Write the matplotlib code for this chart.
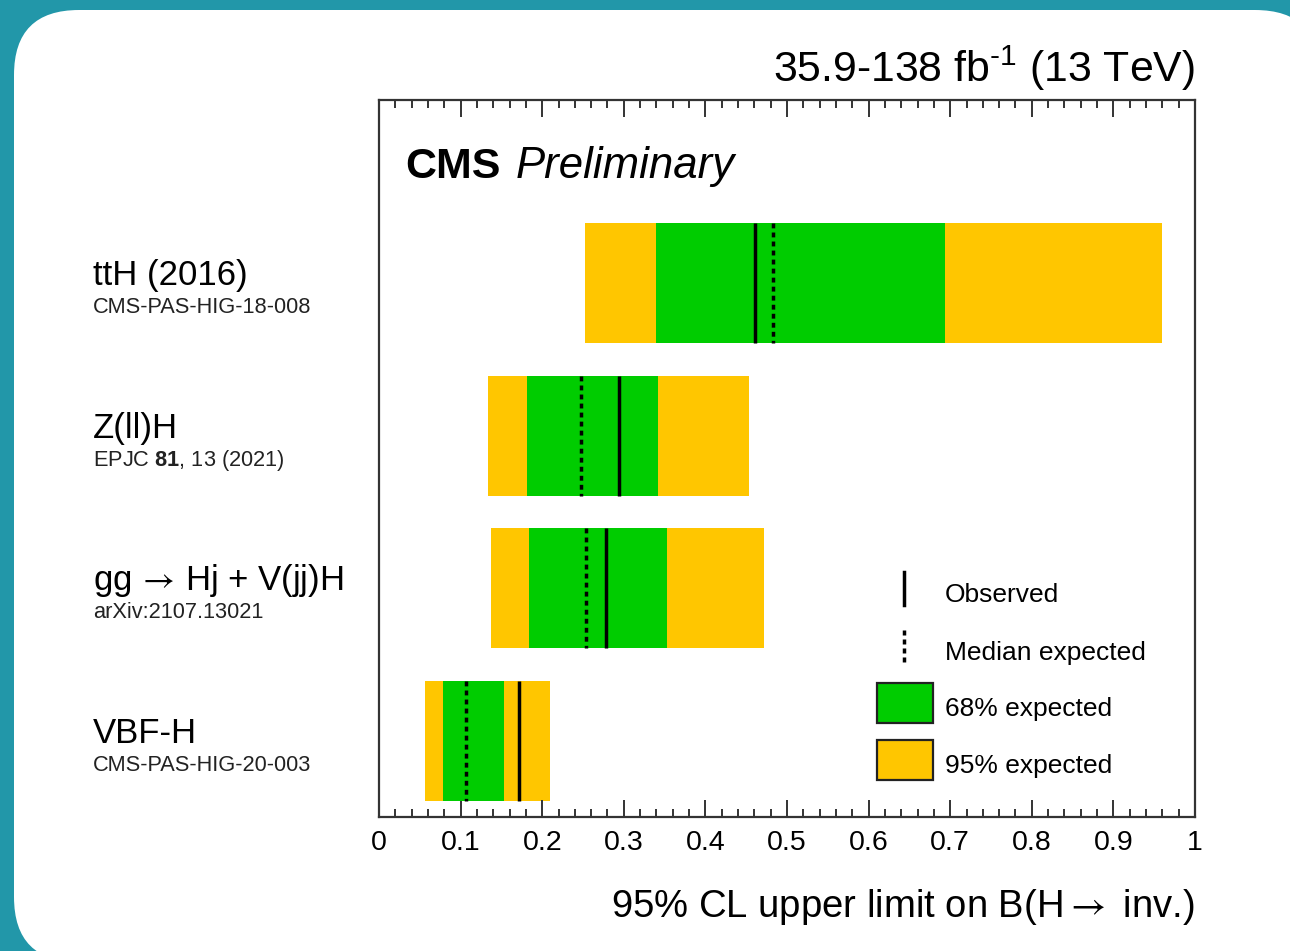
import matplotlib
matplotlib.use("Agg")
import matplotlib.pyplot as plt
import numpy as np
from matplotlib.patches import FancyBboxPatch, Rectangle
from matplotlib.lines import Line2D
from matplotlib.ticker import MultipleLocator

plt.rcParams['font.family'] = ['Liberation Sans', 'DejaVu Sans']
plt.rcParams['mathtext.fontset'] = 'custom'
plt.rcParams['mathtext.rm'] = 'Liberation Sans'
plt.rcParams['mathtext.bf'] = 'Liberation Sans:bold'
plt.rcParams['mathtext.it'] = 'Liberation Sans:italic'
plt.rcParams['mathtext.sf'] = 'STIXGeneral'   # thin, long arrow glyph

# Channels, top to bottom
categories = ["ttH (2016)", "Z(ll)H", r"gg$\,\mathsf{\rightarrow}\,$Hj + V(jj)H", "VBF-H"]
references = ["CMS-PAS-HIG-18-008", r"EPJC $\mathbf{81}$, 13 (2021)",
              "arXiv:2107.13021", "CMS-PAS-HIG-20-003"]

# 95% CL upper limits on B(H -> inv.)
observed = [0.461, 0.294, 0.278, 0.172]
expected = [0.483, 0.248, 0.254, 0.107]
band68_lo = [0.340, 0.181, 0.184, 0.078]
band68_hi = [0.694, 0.342, 0.353, 0.153]
band95_lo = [0.253, 0.134, 0.137, 0.056]
band95_hi = [0.960, 0.453, 0.472, 0.210]

xticks = [0, 0.1, 0.2, 0.3, 0.4, 0.5, 0.6, 0.7, 0.8, 0.9, 1]
xticklabels = ["0", "0.1", "0.2", "0.3", "0.4", "0.5", "0.6", "0.7", "0.8", "0.9", "1"]

GREEN = "#00cc00"
YELLOW = "#ffc600"
TEAL = "#2297a9"

W, H = 1290, 951
fig = plt.figure(figsize=(W / 100, H / 100), dpi=100, facecolor=TEAL)

# rounded white card behind the plot
bg = fig.add_axes([0, 0, 1, 1], zorder=0)
bg.set_xlim(0, W)
bg.set_ylim(H, 0)
bg.axis("off")
bg.add_patch(FancyBboxPatch((14, 10), 1320 - 14, 962 - 10,
                            boxstyle="round,pad=0,rounding_size=65",
                            facecolor="white", edgecolor="none"))

# main axes (pixel box 379..1195 x 100..817)
x0, x1, y0, y1 = 379, 1195, 100, 817
ax = fig.add_axes([x0 / W, 1 - y1 / H, (x1 - x0) / W, (y1 - y0) / H], zorder=1)

ypos = np.arange(len(categories))
bar_h = 0.786
lo95 = np.array(band95_lo); hi95 = np.array(band95_hi)
lo68 = np.array(band68_lo); hi68 = np.array(band68_hi)
ax.barh(ypos, hi95 - lo95, left=lo95, height=bar_h, color=YELLOW, edgecolor="none", zorder=1)
ax.barh(ypos, hi68 - lo68, left=lo68, height=bar_h, color=GREEN, edgecolor="none", zorder=2)
ax.vlines(expected, ypos - bar_h / 2, ypos + bar_h / 2, colors="black",
          linewidth=2.5, linestyles=(0, (1.4, 1.2)), zorder=3)
ax.vlines(observed, ypos - bar_h / 2, ypos + bar_h / 2, colors="black",
          linewidth=2.5, zorder=4)

ax.set_xlim(0, 1)
ax.set_ylim(3.497, -1.198)
ax.set_xticks(xticks)
ax.set_xticklabels(xticklabels, fontsize=20.5)
ax.xaxis.set_minor_locator(MultipleLocator(0.02))
ax.set_yticks([])
ax.tick_params(axis="x", which="both", direction="in", top=True, bottom=True,
               width=1.4, color="#333333", pad=9)
ax.tick_params(axis="x", which="major", length=12)
ax.tick_params(axis="x", which="minor", length=6)
for s in ax.spines.values():
    s.set_linewidth(1.6)
    s.set_color("#333333")

# channel labels
ytr = ax.get_yaxis_transform()
lab_x = (93 - x0) / (x1 - x0)
for yi, name, ref in zip(ypos, categories, references):
    ax.annotate(name, xy=(lab_x, yi), xycoords=ytr, xytext=(0, -1.5),
                textcoords="offset points", ha="left", va="baseline",
                fontsize=25, annotation_clip=False)
    ax.annotate(ref, xy=(lab_x, yi), xycoords=ytr, xytext=(0, -21.5),
                textcoords="offset points", ha="left", va="baseline",
                fontsize=15.7, color="#222222", annotation_clip=False)

# header texts
def fy(py):
    return (y1 - py) / (y1 - y0)

def fx(px):
    return (px - x0) / (x1 - x0)

ax.text(1.0, fy(82), r"35.9-138 fb$^{\text{-}1}$ (13 TeV)", transform=ax.transAxes,
        ha="right", va="baseline", fontsize=30.8)
ax.text(fx(405), fy(178), "CMS", transform=ax.transAxes, ha="left",
        va="baseline", fontsize=31, fontweight="bold")
ax.text(fx(516), fy(178), "Preliminary", transform=ax.transAxes, ha="left",
        va="baseline", fontsize=31.5, fontstyle="italic")
ax.text(1.0, fy(917), r"95% CL upper limit on B(H$\mathsf{\rightarrow}$ inv.)",
        transform=ax.transAxes, ha="right", va="baseline", fontsize=27.5)

# legend
lx = fx(904)
ax.add_line(Line2D([lx, lx], [fy(572), fy(605)], transform=ax.transAxes,
                   color="black", linewidth=2.5))
ax.add_line(Line2D([lx, lx], [fy(630), fy(662)], transform=ax.transAxes,
                   color="black", linewidth=2.5, linestyle=(0, (1.44, 1.15))))
ax.add_patch(Rectangle((fx(877), fy(723)), fx(933) - fx(877), fy(683) - fy(723),
                       transform=ax.transAxes, facecolor=GREEN, edgecolor="#222222",
                       linewidth=1.6, clip_on=False))
ax.add_patch(Rectangle((fx(877), fy(780)), fx(933) - fx(877), fy(740) - fy(780),
                       transform=ax.transAxes, facecolor=YELLOW, edgecolor="#222222",
                       linewidth=1.6, clip_on=False))
for txt, py in [("Observed", 602), ("Median expected", 660),
                ("68% expected", 716), ("95% expected", 773)]:
    ax.text(fx(945), fy(py), txt, transform=ax.transAxes, ha="left",
            va="baseline", fontsize=19)

fig.savefig("out.png", dpi=100, facecolor=TEAL)
